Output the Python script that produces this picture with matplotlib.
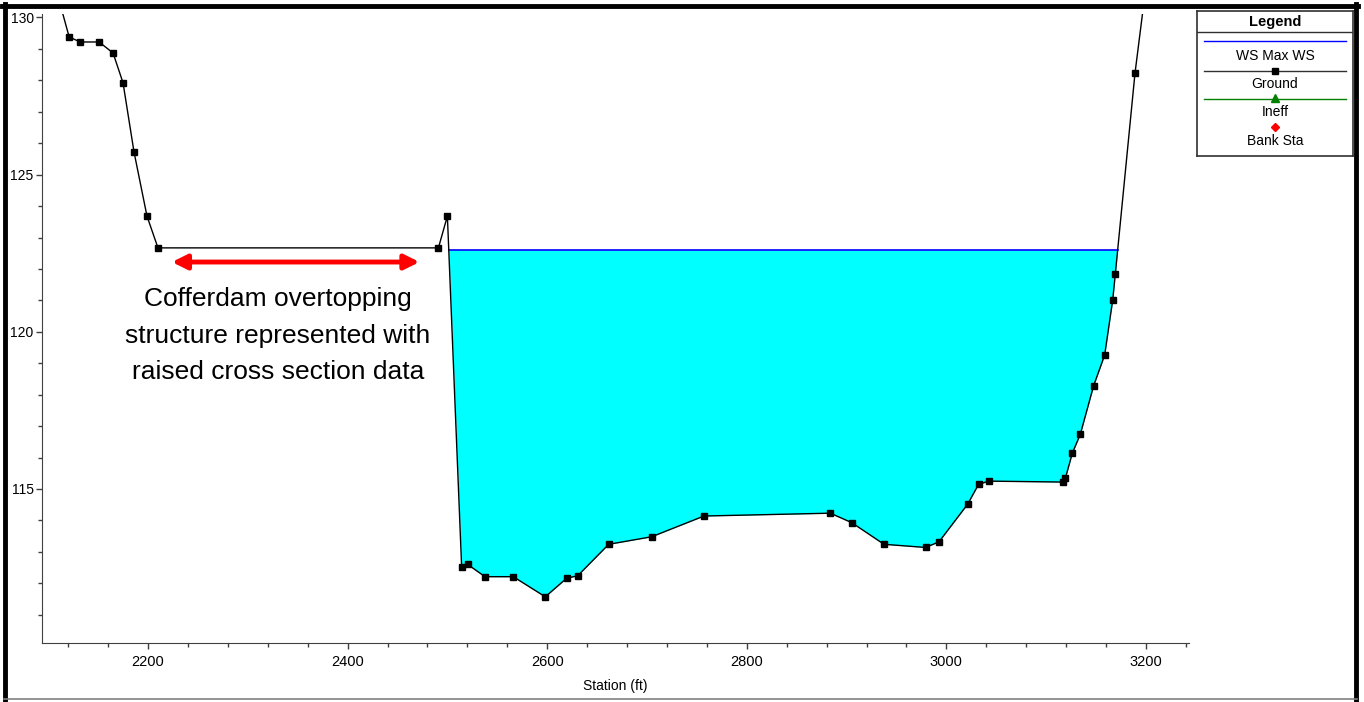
import numpy as np
import matplotlib
matplotlib.use("Agg")
import matplotlib.pyplot as plt
from matplotlib.lines import Line2D
from matplotlib.ticker import MultipleLocator

plt.rcParams['font.family'] = ['Liberation Sans', 'DejaVu Sans']

# ground profile (station ft, elevation ft)
estacao = [2107, 2121, 2132, 2151, 2165, 2175, 2186, 2199, 2210, 2491, 2500,
           2514.3, 2520.3, 2537.7, 2566.0, 2598.1, 2619.5, 2630.6, 2661.6, 2704.7,
           2757.1, 2883.7, 2905.1, 2937.5, 2979.2, 2992.6, 3021.4, 3032.3, 3042.7,
           3116.8, 3119.2, 3126.2, 3134.2, 3147.6, 3158.6, 3166.7, 3169.3, 3189.0, 3200]
cota = [131.0, 129.38, 129.22, 129.22, 128.87, 127.92, 125.72, 123.68, 122.67, 122.67, 123.68,
        112.51, 112.60, 112.21, 112.21, 111.57, 112.16, 112.24, 113.24, 113.48,
        114.14, 114.23, 113.93, 113.24, 113.14, 113.32, 114.52, 115.15, 115.25,
        115.22, 115.34, 116.14, 116.74, 118.29, 119.26, 121.02, 121.85, 128.23, 131.0]
ws_max = 122.61

# annotation
texto = "Cofferdam overtopping\nstructure represented with\nraised cross section data"
seta_x = (2224, 2472)
seta_y = 122.22
texto_pos = (2330, 119.88)

x = np.array(estacao)
y = np.array(cota)


def cruzamentos(x, y, nivel):
    # stations where the ground crosses the water surface
    pts = []
    for i in range(len(x) - 1):
        a, b = y[i] - nivel, y[i + 1] - nivel
        if a * b < 0:
            pts.append(x[i] + (x[i + 1] - x[i]) * a / (a - b))
    return pts


cr = cruzamentos(x, y, ws_max)
ws_esq, ws_dir = cr[-2], cr[-1]

fig = plt.figure(figsize=(13.64, 7.02), dpi=100)
ax = fig.add_axes([42 / 1364, 1 - 642.7 / 702, (1189 - 42) / 1364, (642.7 - 14) / 702])

# water fill inside the channel
xx = np.concatenate([[ws_esq], x[(x > ws_esq) & (x < ws_dir)], [ws_dir]])
yy = np.interp(xx, x, y)
ax.fill_between(xx, yy, ws_max, color="#00FFFF", lw=0, zorder=1)
ax.plot([ws_esq, ws_dir], [ws_max, ws_max], color="#0000FF", lw=1.2, zorder=2)

ax.plot(x, y, color="black", lw=1, marker="s", markersize=4.5, zorder=3)

ax.annotate("", xy=(seta_x[0], seta_y), xytext=(seta_x[1], seta_y),
            arrowprops=dict(arrowstyle="<|-|>", color="red", lw=3.5, mutation_scale=22,
                            shrinkA=0, shrinkB=0))
ax.text(texto_pos[0], texto_pos[1], texto, ha="center", va="center", fontsize=19,
        linespacing=1.65, color="black")

ax.set_xlim(2093.8, 3243.1)
ax.set_ylim(110.11, 130.11)
ax.xaxis.set_major_locator(MultipleLocator(200))
ax.xaxis.set_minor_locator(MultipleLocator(40))
ax.yaxis.set_major_locator(MultipleLocator(5))
ax.yaxis.set_minor_locator(MultipleLocator(1))
ax.spines["top"].set_visible(False)
ax.spines["right"].set_visible(False)
for s in ("left", "bottom"):
    ax.spines[s].set_color("#404040")
ax.tick_params(which="major", length=4, width=1, color="#404040", labelsize=10.5, pad=3)
ax.tick_params(which="minor", length=3, width=1, color="#404040")
ax.tick_params(axis="x", which="major", pad=5)
ax.tick_params(axis="y", which="major", labelsize=10, pad=2)
ax.set_xlabel("Station (ft)", fontsize=10, labelpad=7)

# legend panel
lax = fig.add_axes([1197 / 1364, 1 - 156 / 702, (1353 - 1197) / 1364, (156 - 11) / 702])
lax.set_xlim(1197, 1353)
lax.set_ylim(156, 11)
lax.set_xticks([])
lax.set_yticks([])
for s in lax.spines.values():
    s.set_color("#303030")
    s.set_linewidth(1.2)
lax.text(1275, 22, "Legend", ha="center", va="center", fontsize=10.5, fontweight="bold")
lax.plot([1197, 1353], [31.5, 31.5], color="#303030", lw=1)
lax.plot([1204, 1346], [40.7, 40.7], color="#0000FF", lw=1)
lax.text(1275, 55.7, "WS Max WS", ha="center", va="center", fontsize=10)
lax.plot([1204, 1346], [70.7, 70.7], color="#303030", lw=1)
lax.plot([1275], [70.7], "s", color="black", markersize=4.5)
lax.text(1275, 84, "Ground", ha="center", va="center", fontsize=10)
lax.plot([1204, 1346], [99, 99], color="#008000", lw=1)
lax.plot([1275], [97.5], "^", color="#008000", markersize=6)
lax.text(1275, 112, "Ineff", ha="center", va="center", fontsize=10)
lax.plot([1275], [126.7], "D", color="red", markersize=4)
lax.text(1275, 141, "Bank Sta", ha="center", va="center", fontsize=10)

# outer frame
W, H = 1364, 702
def borda(xs, ys, cor, lw):
    fig.add_artist(Line2D([v / W for v in xs], [1 - v / H for v in ys],
                          color=cor, lw=lw, transform=fig.transFigure))
borda([2, 1358], [6, 6], "black", 3.5)
borda([5, 5], [4, 700], "black", 3.5)
borda([1355.5, 1355.5], [4, 700], "black", 3.5)
borda([4, 1357], [699, 699], "#808080", 1.2)

fig.savefig("out.png", dpi=100)
